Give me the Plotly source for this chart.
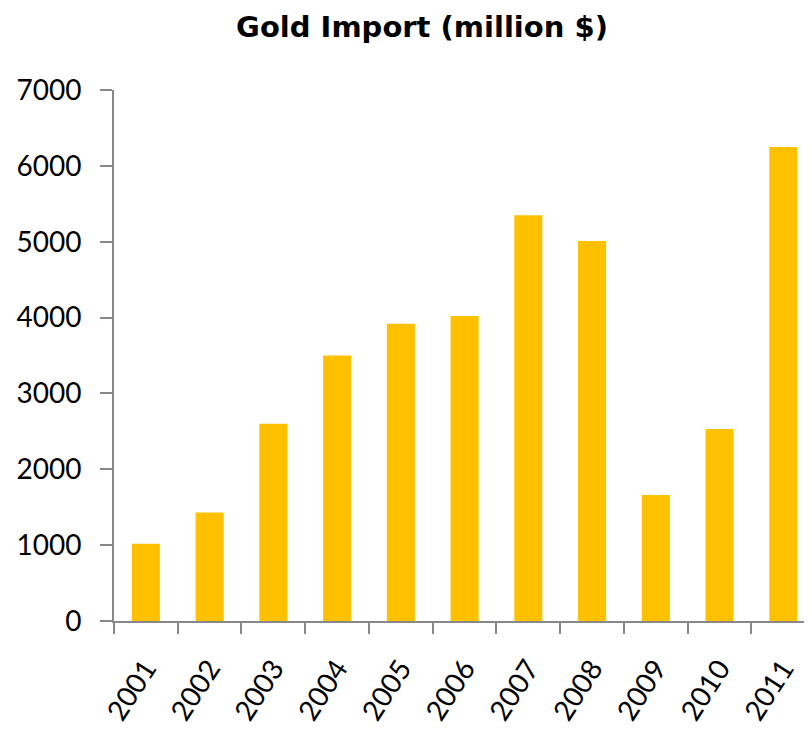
import plotly.graph_objects as go

years = ["2001", "2002", "2003", "2004", "2005", "2006", "2007", "2008", "2009", "2010", "2011"]
imports = [1020, 1430, 2600, 3500, 3920, 4020, 5350, 5010, 1660, 2530, 6250]
y_ticks = [0, 1000, 2000, 3000, 4000, 5000, 6000, 7000]
title_text = "Gold Import (million $)"

fig = go.Figure(
    go.Bar(x=years, y=imports, marker=dict(color="#FFC000", line=dict(width=0)))
)

# page body has an 8px margin, so the figure is sized to fit inside the window
fig.update_layout(
    width=804,
    height=723,
    margin=dict(l=106, r=0, t=82, b=110),
    paper_bgcolor="white",
    plot_bgcolor="white",
    bargap=0.56,
    showlegend=False,
    font=dict(family="Lato", color="black"),
    title=dict(
        text="<b>" + title_text + "</b>",
        x=(422 - 8) / 804,
        xanchor="center",
        y=1 - (27 - 8) / 723,
        yanchor="middle",
        font=dict(family="DejaVu Sans", size=29, color="black"),
    ),
)

fig.update_xaxes(
    type="category",
    range=[-0.5, 10.45],
    showline=True,
    linecolor="#888888",
    linewidth=2,
    ticks="outside",
    tickson="boundaries",
    ticklen=11,
    tickwidth=2,
    tickcolor="#888888",
    tickangle=-57,
    tickfont=dict(family="Lato", size=28, color="black"),
    ticklabelstandoff=18,
    showgrid=False,
    zeroline=False,
)

fig.update_yaxes(
    range=[0, 7000],
    tickvals=y_ticks,
    ticktext=[str(v) for v in y_ticks],
    showline=True,
    linecolor="#888888",
    linewidth=2,
    ticks="outside",
    ticklen=12,
    tickwidth=2,
    tickcolor="#888888",
    tickfont=dict(family="Lato", size=28, color="black"),
    ticklabelstandoff=13,
    showgrid=False,
    zeroline=False,
)

fig.write_html("out.html")
